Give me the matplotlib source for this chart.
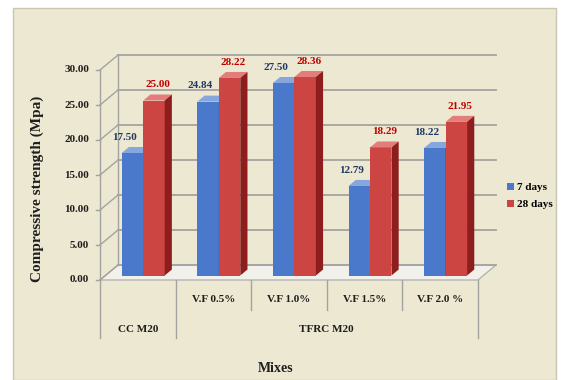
import matplotlib.pyplot as plt
from matplotlib.patches import Polygon, Rectangle

plt.rcParams['font.family'] = ['Liberation Serif', 'DejaVu Serif']
plt.rcParams['font.weight'] = 'bold'

mixes = ['V.F 0.5%', 'V.F 1.0%', 'V.F 1.5%', 'V.F 2.0 %']
groups = ['CC M20', 'TFRC M20']
series = ['7 days', '28 days']
days7 = [17.50, 24.84, 27.50, 12.79, 18.22]
days28 = [25.00, 28.22, 28.36, 18.29, 21.95]
yticks = [0, 5, 10, 15, 20, 25, 30]

W, H = 568, 380
fig = plt.figure(figsize=(W / 100, H / 100), dpi=100)
fig.patch.set_facecolor('white')

# chart area background
fig.add_artist(Rectangle((13 / W, 0), 543 / W, 372 / H, transform=fig.transFigure,
                         facecolor='#EDE8D1', edgecolor='#C9C5B0', lw=1, zorder=-5))

# plot area: 75.6 px per category, 7 px per MPa
px_cat, px_val = 75.6, 7.0
ax = fig.add_axes([100 / W, 100 / H, 400 / W, 231 / H])
ax.set_zorder(2)
ax.set_xlim(-0.5, -0.5 + 400 / px_cat)
ax.set_ylim(0, 231 / px_val)
ax.set_axis_off()
ax.patch.set_alpha(0)

# depth of the walls and of the bars
wx, wy = 18 / px_cat, 15 / px_val
ox, oy = 5.4 / px_cat, 4.5 / px_val
bx, by = 7.2 / px_cat, 6.0 / px_val
n = len(days7)
left, right = -0.5, n - 0.5
grid = '#A3A3A0'

# floor
ax.add_patch(Polygon([(left, 0), (right, 0), (right + wx, wy), (left + wx, wy)],
                     closed=True, facecolor='#F1F0EA', edgecolor='#B5B5B0', lw=1, zorder=1,
                     clip_on=False))
# back and side wall gridlines
for v in yticks:
    ax.plot([left + wx, right + wx], [v + wy, v + wy], color=grid, lw=1.3, zorder=1.2,
            clip_on=False)
    ax.plot([left, left + wx], [v, v + wy], color=grid, lw=1.0, zorder=1.2, clip_on=False)
    ax.plot([left - 4 / px_cat, left], [v, v], color=grid, lw=1.0, zorder=1.2, clip_on=False)
    ax.text(left - 11 / px_cat, v, '%.2f' % v, ha='right', va='center', fontsize=8,
            color='#1E1E1E', clip_on=False)
ax.plot([left + wx, left + wx], [wy, yticks[-1] + wy], color=grid, lw=1.0, zorder=1.2,
        clip_on=False)
ax.plot([left, left], [0, yticks[-1]], color=grid, lw=1.0, zorder=1.2, clip_on=False)

# 3D-looking columns
w = 0.284
styles = [('#4A79CB', '#86A6DE', '#2C4E91', '#1F3864'),
          ('#CD4543', '#E27D7A', '#8E1D1D', '#C00000')]
for k, vals in enumerate([days7, days28]):
    front, top, side, txt = styles[k]
    xs = [i + ox + (k - 1) * w for i in range(n)]
    ax.bar(xs, vals, width=w, bottom=oy, align='edge', color=front, zorder=3 + k,
           label=series[k], clip_on=False)
    for x0, v in zip(xs, vals):
        x1 = x0 + w
        ax.add_patch(Polygon([(x0, v + oy), (x1, v + oy), (x1 + bx, v + oy + by),
                              (x0 + bx, v + oy + by)], facecolor=top, lw=0,
                             zorder=3 + k, clip_on=False))
        ax.add_patch(Polygon([(x1, oy), (x1, v + oy), (x1 + bx, v + oy + by), (x1 + bx, oy + by)],
                             facecolor=side, lw=0, zorder=3 + k, clip_on=False))
        if k == 0:
            lx = x0 + w / 2 - 8 / px_cat
        else:
            lx = x0 + (w + bx) / 2
        ax.text(lx, v + oy + by + 1.4, '%.2f' % v, ha='center', va='center', fontsize=8,
                color=txt, zorder=6, clip_on=False)

# two-level category axis
row1, row2 = -20 / px_val, -50 / px_val
low1, low2 = -30 / px_val, -58 / px_val
for b in [left, 0.5, right]:
    ax.plot([b, b], [0, low2], color=grid, lw=1.0, clip_on=False)
for b in [1.5, 2.5, 3.5]:
    ax.plot([b, b], [0, low1], color=grid, lw=1.0, clip_on=False)
for i, m in enumerate(mixes):
    ax.text(i + 1, row1, m, ha='center', va='center', fontsize=8, color='#1E1E1E',
            clip_on=False)
ax.text(0, row2, groups[0], ha='center', va='center', fontsize=8, color='#1E1E1E',
        clip_on=False)
ax.text(2.5, row2, groups[1], ha='center', va='center', fontsize=8, color='#1E1E1E',
        clip_on=False)

fig.text(276 / W, 1 - 368 / H, 'Mixes', ha='center', va='center', fontsize=10,
         color='#1E1E1E')
fig.text(37 / W, 1 - 189 / H, 'Compressive strength (Mpa)', rotation=90, ha='center',
         va='center', fontsize=11, color='#1E1E1E')

ax.legend(loc='center left', bbox_to_anchor=(507 / W, 1 - 196 / H),
          bbox_transform=fig.transFigure, frameon=False, fontsize=8,
          handlelength=0.6, handleheight=0.6, handletextpad=0.3, labelspacing=0.7,
          borderaxespad=0, borderpad=0)

fig.savefig('out.png', dpi=100)
